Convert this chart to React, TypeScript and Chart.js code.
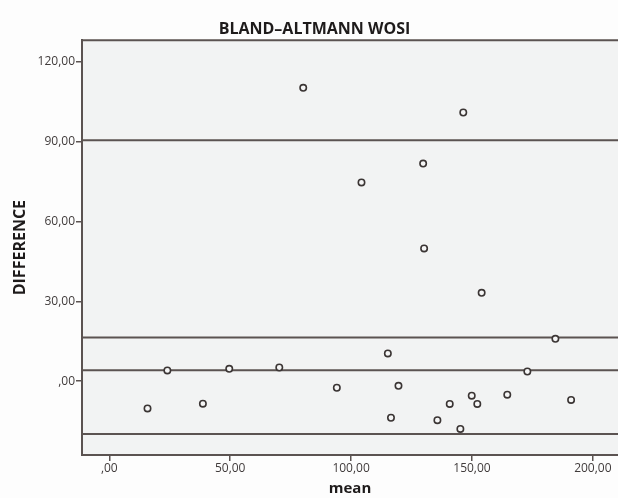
import React, { useEffect, useRef } from "react";
import { Chart, registerables } from "chart.js";

Chart.register(...registerables);

// ---- data ----
const meanValues = [
  15.8, 24.0, 38.7, 49.6, 70.3, 94.1, 115.2, 116.5, 119.6, 135.7, 140.8, 145.2,
  149.9, 152.2, 164.6, 172.9, 184.5, 191.0, 154.0, 80.2, 146.4, 129.8, 104.3, 130.2,
];
const differenceValues = [
  -10.3, 4.0, -8.5, 4.6, 5.1, -2.5, 10.4, -13.8, -1.8, -14.7, -8.6, -18.0,
  -5.5, -8.6, -5.1, 3.6, 15.9, -7.1, 33.2, 110.3, 101.0, 81.8, 74.7, 49.9,
];
const referenceLines = [90.6, 16.4, 4.1, -19.9];

const xTickValues = [0, 50, 100, 150, 200];
const xTickLabels = [",00", "50,00", "100,00", "150,00", "200,00"];
const yTickValues = [0, 30, 60, 90, 120];
const yTickLabels = [",00", "30,00", "60,00", "90,00", "120,00"];

const chartTitle = "BLAND\u2013ALTMANN WOSI";
const xAxisTitle = "mean";
const yAxisTitle = "DIFFERENCE";

const X_MIN = -11.3;
const X_MAX = 210.4;
const Y_MIN = -27.8;
const Y_MAX = 128.2;

const LINE = "#5b5351";
const TEXT = "#403b3b";
const FONT = "'Open Sans', 'Noto Sans', sans-serif";

const plotFrame = {
  id: "plotFrame",
  beforeDraw(chart: any) {
    const { ctx, chartArea: a, width, height } = chart;
    ctx.save();
    ctx.fillStyle = "#fdfdfd";
    ctx.fillRect(0, 0, width, height);
    ctx.fillStyle = "#f2f3f3";
    ctx.fillRect(a.left, a.top, a.right - a.left, a.bottom - a.top);
    ctx.restore();
  },
  afterDraw(chart: any) {
    const { ctx, chartArea: a } = chart;
    ctx.save();
    ctx.strokeStyle = LINE;
    ctx.lineWidth = 2;
    ctx.beginPath();
    ctx.moveTo(a.left, a.top);
    ctx.lineTo(a.right, a.top);
    ctx.stroke();
    ctx.restore();
  },
};

export default function App() {
  const ref = useRef<HTMLCanvasElement | null>(null);

  useEffect(() => {
    if (!ref.current) return;
    const points = meanValues.map((m, i) => ({ x: m, y: differenceValues[i] }));
    const lineSets = referenceLines.map((v) => ({
      type: "line" as const,
      data: [
        { x: X_MIN, y: v },
        { x: X_MAX, y: v },
      ],
      borderColor: LINE,
      borderWidth: 2,
      pointRadius: 0,
      pointHoverRadius: 0,
      fill: false,
      order: 2,
    }));

    const chart = new Chart(ref.current, {
      type: "scatter",
      data: {
        datasets: [
          {
            type: "scatter",
            data: points,
            pointRadius: 3.2,
            pointBorderWidth: 1.6,
            pointBorderColor: "#3b3534",
            pointBackgroundColor: "#f6f6f6",
            order: 0,
          } as any,
          ...lineSets,
        ],
      },
      options: {
        animation: false,
        responsive: false,
        events: [],
        layout: { autoPadding: false, padding: { left: 11, right: 0, top: 0, bottom: 0 } },
        plugins: {
          legend: { display: false },
          tooltip: { enabled: false },
          title: {
            display: true,
            text: chartTitle,
            color: "#1e1b1b",
            font: { family: FONT, size: 16, weight: "bold" },
            padding: { top: 20, bottom: 1 },
          },
        },
        scales: {
          x: {
            type: "linear",
            min: X_MIN,
            max: X_MAX,
            afterBuildTicks: (scale: any) => {
              scale.ticks = xTickValues.map((v) => ({ value: v }));
            },
            afterFit: (scale: any) => {
              scale.height = 43;
              scale.paddingLeft = 0;
              scale.paddingRight = 0;
            },
            ticks: {
              padding: 0,
              color: TEXT,
              font: { family: FONT, size: 12 },
              maxRotation: 0,
              callback: (v: any) => {
                const i = xTickValues.indexOf(Number(v));
                return i >= 0 ? xTickLabels[i] : "";
              },
            },
            grid: {
              display: true,
              drawOnChartArea: false,
              drawTicks: true,
              tickLength: 6,
              color: LINE,
              lineWidth: 1.5,
            },
            border: { display: true, color: LINE, width: 2 },
            title: {
              display: true,
              text: xAxisTitle,
              color: "#1e1b1b",
              font: { family: FONT, size: 15, weight: "bold" },
              padding: 0,
            },
          },
          y: {
            type: "linear",
            min: Y_MIN,
            max: Y_MAX,
            afterBuildTicks: (scale: any) => {
              scale.ticks = yTickValues.map((v) => ({ value: v }));
            },
            afterFit: (scale: any) => {
              scale.width = 71;
              scale.paddingTop = 0;
              scale.paddingBottom = 0;
            },
            ticks: {
              padding: 1,
              color: TEXT,
              font: { family: FONT, size: 12 },
              callback: (v: any) => {
                const i = yTickValues.indexOf(Number(v));
                return i >= 0 ? yTickLabels[i] : "";
              },
            },
            grid: {
              display: true,
              drawOnChartArea: false,
              drawTicks: true,
              tickLength: 6,
              color: LINE,
              lineWidth: 1.5,
            },
            border: { display: true, color: LINE, width: 2 },
            title: {
              display: true,
              text: yAxisTitle,
              color: "#1e1b1b",
              font: { family: FONT, size: 16, weight: "bold" },
              padding: 0,
            },
          },
        },
      },
      plugins: [plotFrame],
    });
    return () => chart.destroy();
  }, []);

  return (
    <div style={{ position: "fixed", left: 0, top: 0, width: 618, height: 498 }}>
      <canvas ref={ref} width={618} height={498} />
    </div>
  );
}
